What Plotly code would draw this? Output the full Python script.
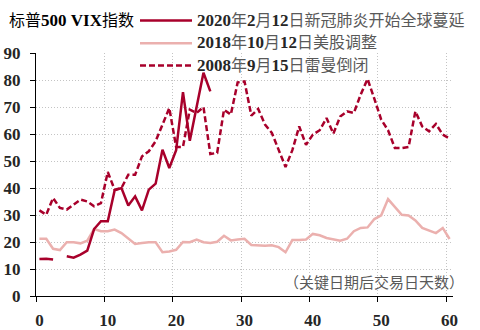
import plotly.graph_objects as go

# ---------------- data ----------------
days = list(range(61))

vix_2020 = [13.7, 13.8, 13.5, None, 14.7, 14.2, 15.3, 16.8, 24.8, 27.7,
            27.7, 39.1, 40.0, 33.5, 36.9, 31.7, 39.4, 41.6, 54.2, 47.4,
            54.0, 75.5, 57.5, 70.0, 82.7, 75.8] + [None] * 35

vix_2018 = [21.2, 21.2, 17.5, 17.0, 19.9, 19.9, 19.5, 20.5, 24.8, 24.0,
            24.0, 24.6, 23.3, 21.2, 19.3, 19.6, 19.9, 19.9, 16.2, 16.5,
            17.1, 20.0, 19.9, 20.9, 19.9, 19.6, 20.1, 22.3, 20.6, 20.9,
            21.2, 18.9, 18.8, 18.6, 18.8, 18.1, 16.2, 20.7, 20.7, 20.9,
            23.0, 22.5, 21.5, 21.1, 20.5, 21.2, 24.0, 25.2, 25.4, 28.5,
            29.9, 35.9, 32.8, 30.1, 29.8, 28.0, 25.2, 24.3, 23.3, 25.2, 21.1]

vix_2008 = [31.7, 30.1, 36.3, 32.6, 32.0, 33.8, 35.7, 35.0, 33.2, 34.4,
            45.9, 39.4, 40.0, 44.9, 44.9, 51.7, 53.6, 57.3, 63.5, 69.6,
            55.2, 55.2, 69.0, 67.8, 70.0, 52.6, 53.0, 69.0, 67.2, 79.1,
            79.5, 66.8, 69.3, 63.5, 60.4, 54.2, 47.8, 54.0, 62.8, 56.0,
            59.8, 61.4, 65.9, 60.1, 66.5, 68.4, 67.8, 74.6, 80.4, 73.0,
            65.3, 61.4, 54.8, 54.8, 55.2, 68.4, 62.8, 61.0, 63.7, 59.8, 58.3]

series_names = ["2020年2月12日新冠肺炎开始全球蔓延",
                "2018年10月12日美股调整",
                "2008年9月15日雷曼倒闭"]
title_text = "标普500 VIX指数"
note_text = "（关键日期后交易日天数）"

x_ticks = [0, 10, 20, 30, 40, 50, 60]
y_ticks = [0, 10, 20, 30, 40, 50, 60, 70, 80, 90]

# ---------------- style ----------------
RED = "#A8002B"
PINK = "#EBB0AE"
GRID = "#c4c4c4"
TXT = "#262626"
CJK_GRAY = "#595959"
NUM_FONT = "Liberation Serif"
CJK_FONT = "Noto Sans CJK SC"

fig = go.Figure()
fig.add_trace(go.Scatter(x=days, y=vix_2018, mode="lines", name=series_names[1],
                         line=dict(color=PINK, width=2.5), connectgaps=False))
fig.add_trace(go.Scatter(x=days, y=vix_2008, mode="lines", name=series_names[2],
                         line=dict(color=RED, width=2.5, dash="6px,3px")))
fig.add_trace(go.Scatter(x=days, y=vix_2020, mode="lines", name=series_names[0],
                         line=dict(color=RED, width=2.5), connectgaps=False))

tickfont = dict(family=NUM_FONT, size=17, color=TXT, weight="bold")

fig.update_layout(
    width=480, height=330,
    margin=dict(l=36, r=27, t=53, b=34, autoexpand=False),
    paper_bgcolor="white", plot_bgcolor="white",
    showlegend=False,
    xaxis=dict(
        range=[-0.5, 60.5], automargin=False,
        tickmode="array", tickvals=x_ticks, ticktext=[str(v) for v in x_ticks],
        ticks="outside", ticklen=5, tickcolor="rgba(0,0,0,0)",
        showgrid=False, zeroline=False,
        showline=True, linecolor="black", linewidth=1,
        tickfont=tickfont, ticklabelstandoff=4,
        minor=dict(tickmode="array", tickvals=[v - 0.5 for v in x_ticks],
                   ticks="outside", ticklen=5, tickcolor="black", tickwidth=1,
                   showgrid=True, gridcolor=GRID, griddash="1px,2px", gridwidth=1),
    ),
    yaxis=dict(
        range=[0, 90], automargin=False,
        tickmode="array", tickvals=y_ticks, ticktext=[str(v) for v in y_ticks],
        ticks="outside", ticklen=5, tickcolor="black", tickwidth=1,
        showgrid=True, gridcolor=GRID, griddash="1px,2px", gridwidth=1,
        zeroline=False, showline=True, linecolor="black", linewidth=1,
        tickfont=tickfont, ticklabelstandoff=6,
    ),
)

# ---------------- custom legend & texts ----------------
def px_x(p):
    return (p - 36) / 417.0

def px_y(p):
    return (296 - p) / 243.0

def num_cjk(s):
    out = []
    buf = ""
    for ch in s:
        if ch.isascii():
            buf += ch
        else:
            if buf:
                out.append('<span style="color:%s;font-size:17px"><b>%s</b></span>' % (TXT, buf))
                buf = ""
            out.append(ch)
    if buf:
        out.append('<span style="color:%s;font-size:17px"><b>%s</b></span>' % (TXT, buf))
    return "".join(out)

legend_styles = [dict(color=RED, width=2.5, dash="solid"),
                 dict(color=PINK, width=2.5, dash="solid"),
                 dict(color=RED, width=2.5, dash="6px,3px")]
legend_y = [20.5, 43.3, 65.5]

for name, st, yy in zip(series_names, legend_styles, legend_y):
    fig.add_shape(type="line", xref="paper", yref="paper",
                  x0=px_x(140), x1=px_x(192), y0=px_y(yy), y1=px_y(yy),
                  line=st)
    fig.add_annotation(xref="paper", yref="paper", x=px_x(195), y=px_y(yy - 0.5),
                       xanchor="left", yanchor="middle", showarrow=False,
                       text=num_cjk(name),
                       font=dict(family=NUM_FONT + ", " + CJK_FONT, size=16, color=CJK_GRAY))

fig.add_annotation(xref="paper", yref="paper", x=px_x(7), y=px_y(19),
                   xanchor="left", yanchor="middle", showarrow=False,
                   text='标普<b><span style="font-family:Liberation Serif;font-size:17px">500 VIX</span></b>指数',
                   font=dict(family=CJK_FONT, size=16, color="black"))

fig.add_annotation(xref="paper", yref="paper", x=px_x(466), y=px_y(281),
                   xanchor="right", yanchor="middle", showarrow=False,
                   text=note_text,
                   font=dict(family=CJK_FONT, size=15, color=CJK_GRAY))

fig.write_html("out.html")
